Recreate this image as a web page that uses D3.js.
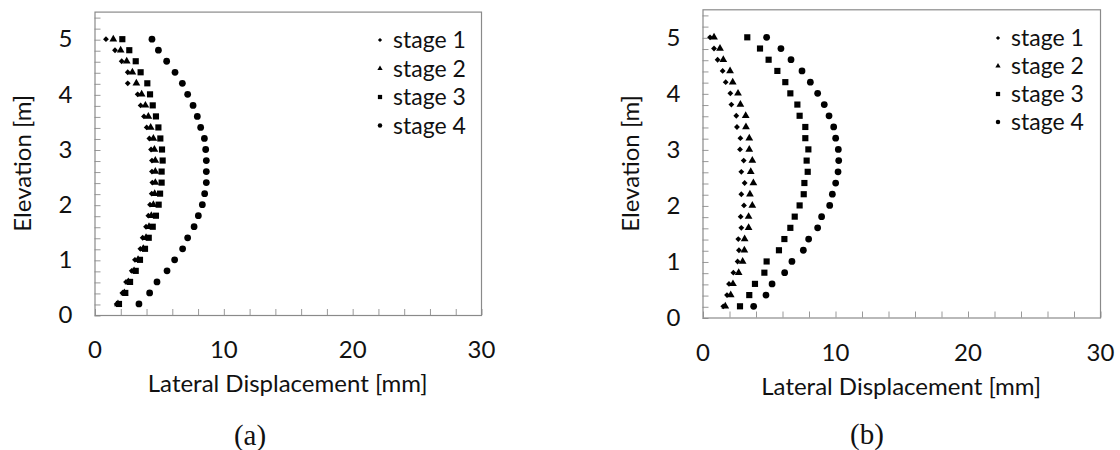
<!DOCTYPE html>
<html><head><meta charset="utf-8">
<script src="https://cdn.jsdelivr.net/npm/d3@7"></script>
<style>body{margin:0;background:#fff}svg{display:block}</style>
</head><body>
<svg id="c" width="1120" height="450"></svg>
<script>
const elevations = [5.0,4.8,4.6,4.4,4.2,4.0,3.8,3.6,3.4,3.2,3.0,2.8,2.6,2.4,2.2,2.0,1.8,1.6,1.4,1.2,1.0,0.8,0.6,0.4,0.2];
const seriesNames = ["stage 1","stage 2","stage 3","stage 4"];
const a_stage1 = [0.89,1.59,2.11,2.58,2.58,3.35,3.58,3.84,4.05,4.26,4.39,4.46,4.46,4.49,4.44,4.31,4.18,4.00,3.74,3.56,3.14,2.89,2.45,2.16,1.72];
const a_stage2 = [1.46,2.03,2.50,2.94,3.25,3.66,3.95,4.18,4.36,4.57,4.65,4.72,4.72,4.72,4.67,4.57,4.41,4.23,4.00,3.79,3.38,3.07,2.63,2.32,1.82];
const a_stage3 = [2.16,2.70,3.20,3.58,4.10,4.31,4.52,4.77,4.96,5.11,5.24,5.29,5.21,5.21,5.09,4.98,4.77,4.52,4.21,3.92,3.53,3.20,2.76,2.39,1.90];
const a_stage4 = [4.46,4.96,5.60,6.25,6.82,7.23,7.65,7.98,8.24,8.53,8.63,8.68,8.68,8.68,8.55,8.37,8.06,7.73,7.23,6.84,6.22,5.63,4.85,4.28,3.45];
const b_stage1 = [0.57,0.87,1.14,1.52,1.75,2.10,2.18,2.55,2.60,2.86,2.83,3.11,2.93,3.18,2.93,3.13,2.88,2.93,2.70,2.75,2.65,2.33,2.00,1.85,1.57];
const b_stage2 = [0.87,1.32,1.57,2.08,2.28,2.68,2.86,3.26,3.28,3.53,3.53,3.76,3.64,3.84,3.58,3.76,3.48,3.48,3.18,3.16,3.03,2.73,2.30,2.13,1.72];
const b_stage3 = [3.38,4.34,4.99,5.65,6.25,6.63,7.16,7.33,7.76,7.76,7.99,7.86,7.94,7.69,7.64,7.33,6.96,6.63,6.18,5.77,4.84,4.67,3.96,3.53,2.83];
const b_stage4 = [4.84,5.92,6.68,7.51,8.14,8.69,9.19,9.55,9.90,10.05,10.25,10.28,10.23,10.05,9.80,9.60,8.99,8.69,8.01,7.61,6.75,6.20,5.25,4.79,3.86];
const xTickLabels = [0,10,20,30];
const yTickLabels = [0,1,2,3,4,5];
const xLabel = "Lateral Displacement [mm]";
const yLabel = "Elevation [m]";
const captions = ["(a)","(b)"];

const svg = d3.select("#c");
const FONT = "Lato, 'Open Sans', sans-serif";

const symbols = [
  {type:d3.symbolSquare, size:17, legSize:9, rot:45},
  {type:d3.symbolTriangle, size:26, legSize:12, rot:0},
  {type:d3.symbolSquare, size:38, legSize:18, rot:0},
  {type:d3.symbolCircle, size:36, legSize:16, rot:0}
];

function drawChart(cfg) {
  const g = svg.append("g");
  const x = d3.scaleLinear().domain([0,30]).range([cfg.x0, cfg.x1]);
  const y = d3.scaleLinear().domain([0,5.5]).range([cfg.y0, cfg.y1]);

  const xMinor = d3.range(0, 30.001, 2);
  const yMinor = d3.range(0, 5.501, 0.2);
  g.append("g").attr("transform", `translate(0,${cfg.y0})`)
    .call(d3.axisTop(x).tickValues(xMinor).tickSize(6).tickFormat(""))
    .call(s => s.select(".domain").remove())
    .call(s => s.selectAll("line").attr("stroke","#999").attr("transform","translate(0.5,0)"));
  g.append("g").attr("transform", `translate(${cfg.x0},0)`)
    .call(d3.axisRight(y).tickValues(yMinor).tickSize(6).tickFormat(""))
    .call(s => s.select(".domain").remove())
    .call(s => s.selectAll("line").attr("stroke","#999").attr("transform","translate(0,0.5)"));

  g.append("rect").attr("x", cfg.x0+0.5).attr("y", cfg.y1+0.5)
    .attr("width", cfg.x1-cfg.x0).attr("height", cfg.y0-cfg.y1)
    .attr("fill","none").attr("stroke","#8a8a8a").attr("stroke-width",1.2);

  g.append("g").attr("transform", `translate(0,${cfg.y0})`)
    .call(d3.axisBottom(x).tickValues(xTickLabels).tickSize(0).tickPadding(26))
    .call(s => s.select(".domain").remove())
    .call(s => s.selectAll("text").attr("font-family",FONT).attr("font-size",24).attr("fill","#111"));
  g.append("g").attr("transform", `translate(${cfg.x0},0)`)
    .call(d3.axisLeft(y).tickValues(yTickLabels).tickSize(0).tickPadding(22).tickFormat(d3.format("d")))
    .call(s => s.select(".domain").remove())
    .call(s => s.selectAll("text").attr("font-family",FONT).attr("font-size",24).attr("fill","#111"));

  g.append("text").attr("x", (cfg.x0+cfg.x1)/2).attr("y", cfg.y0+77)
    .attr("text-anchor","middle").attr("font-family",FONT).attr("font-size",24).attr("fill","#111")
    .text(xLabel);
  g.append("text").attr("transform", `translate(${cfg.x0-64},${(cfg.y0+cfg.y1)/2}) rotate(-90)`)
    .attr("text-anchor","middle").attr("font-family",FONT).attr("font-size",24).attr("fill","#111")
    .text(yLabel);
  g.append("text").attr("x", cfg.capX).attr("y", cfg.capY)
    .attr("text-anchor","middle").attr("font-family","'Liberation Serif', 'DejaVu Serif', serif").attr("font-size",29).attr("fill","#111")
    .text(cfg.caption);

  cfg.series.forEach((vals, si) => {
    const sym = symbols[si];
    const gen = d3.symbol().type(sym.type).size(sym.size);
    g.append("g").selectAll("path").data(vals).join("path")
      .attr("d", gen)
      .attr("transform", (d,i) => `translate(${x(d)},${y(elevations[i])}) rotate(${sym.rot})`)
      .attr("fill","#000");
  });

  const leg = g.append("g");
  seriesNames.forEach((name, si) => {
    const sym = symbols[si];
    const yy = cfg.legY + si*cfg.legStep;
    leg.append("path").attr("d", d3.symbol().type(sym.type).size(sym.legSize)())
      .attr("transform", `translate(${cfg.legX},${yy}) rotate(${sym.rot})`).attr("fill","#000");
    leg.append("text").attr("x", cfg.legX+13).attr("y", yy).attr("dy","0.35em")
      .attr("font-family",FONT).attr("font-size",23).attr("fill","#111").text(name);
  });
}

drawChart({x0:94.5, x1:481, y0:315, y1:11.6, series:[a_stage1,a_stage2,a_stage3,a_stage4],
  legX:380, legY:40, legStep:28.5, caption:captions[0], capX:250, capY:445});
drawChart({x0:702.5, x1:1100, y0:317.5, y1:9.3, series:[b_stage1,b_stage2,b_stage3,b_stage4],
  legX:998, legY:38, legStep:28, caption:captions[1], capX:867, capY:444});
</script>
</body></html>
